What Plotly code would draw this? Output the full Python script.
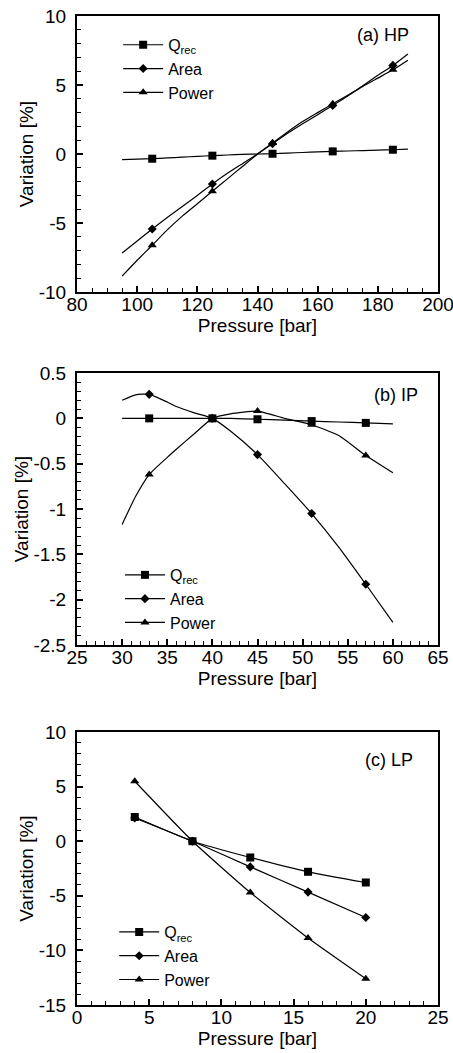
import plotly.graph_objects as go

# ---------------- data ----------------
# (a) HP
a_curve_x = [95, 100, 105, 110, 115, 120, 125, 130, 135, 140, 145, 150, 155, 160, 165, 170, 175, 180, 185, 190]
a_q_curve = [-0.41, -0.37, -0.34, -0.28, -0.23, -0.17, -0.12, -0.07, -0.03, 0.0, 0.02, 0.07, 0.11, 0.15, 0.19, 0.22, 0.25, 0.28, 0.31, 0.36]
a_area_curve = [-7.17, -6.3, -5.43, -4.6, -3.8, -3.0, -2.17, -1.4, -0.7, 0.0, 0.75, 1.5, 2.2, 2.85, 3.52, 4.2, 4.95, 5.7, 6.42, 7.25]
a_power_curve = [-8.85, -7.7, -6.61, -5.5, -4.5, -3.6, -2.7, -1.8, -0.9, 0.0, 0.8, 1.6, 2.35, 3.0, 3.64, 4.25, 4.9, 5.5, 6.1, 6.8]
a_mark_x = [105, 125, 145, 165, 185]
a_q_mark = [-0.34, -0.12, 0.02, 0.19, 0.31]
a_area_mark = [-5.43, -2.17, 0.75, 3.52, 6.42]
a_power_mark = [-6.61, -2.7, 0.8, 3.64, 6.1]

# (b) IP
b_curve_x = [30, 31.5, 33, 35, 36, 38, 40, 42, 45, 48, 51, 54, 57, 60]
b_q_curve = [0.0, 0.0, 0.0, 0.0, 0.0, 0.0, 0.0, 0.0, -0.01, -0.02, -0.03, -0.04, -0.05, -0.06]
b_area_curve = [0.2, 0.26, 0.265, 0.18, 0.13, 0.06, 0.0, -0.14, -0.40, -0.72, -1.05, -1.42, -1.83, -2.25]
b_power_curve = [-1.17, -0.86, -0.62, -0.43, -0.34, -0.17, 0.0, 0.05, 0.08, 0.0, -0.07, -0.19, -0.41, -0.60]
b_mark_x = [33, 40, 45, 51, 57]
b_q_mark = [0.0, 0.0, -0.01, -0.03, -0.05]
b_area_mark = [0.265, 0.0, -0.40, -1.05, -1.83]
b_power_mark = [-0.62, 0.0, 0.08, -0.07, -0.41]

# (c) LP
c_mark_x = [4, 8, 12, 16, 20]
c_q_mark = [2.22, 0.0, -1.49, -2.8, -3.78]
c_area_mark = [2.13, 0.0, -2.35, -4.66, -6.98]
c_power_mark = [5.49, 0.0, -4.7, -8.87, -12.6]

series_names = ["Q<sub>rec</sub>", "Area", "Power"]
symbols = ["square", "diamond", "triangle-up"]
marker_sizes = [8, 7, 8]
panel_labels = ["(a) HP", "(b) IP", "(c) LP"]

a_xticks = [80, 100, 120, 140, 160, 180, 200]
a_yticks = [-10, -5, 0, 5, 10]
a_yticktext = ["-10", "-5", "0", "5", "10"]
b_xticks = [25, 30, 35, 40, 45, 50, 55, 60, 65]
b_yticks = [-2.5, -2, -1.5, -1, -0.5, 0, 0.5]
b_yticktext = ["-2.5", "-2", "-1.5", "-1", "-0.5", "0", "0.5"]
c_xticks = [0, 5, 10, 15, 20, 25]
c_yticks = [-15, -10, -5, 0, 5, 10]
c_yticktext = ["-15", "-10", "-5", "0", "5", "10"]

# ---------------- figure ----------------
FONT = "Liberation Sans, Arial, sans-serif"
fig = go.Figure()

panels = [
    dict(curve_x=a_curve_x, curves=[a_q_curve, a_area_curve, a_power_curve],
         mark_x=a_mark_x, marks=[a_q_mark, a_area_mark, a_power_mark], xa="x", ya="y", lg="legend"),
    dict(curve_x=b_curve_x, curves=[b_q_curve, b_area_curve, b_power_curve],
         mark_x=b_mark_x, marks=[b_q_mark, b_area_mark, b_power_mark], xa="x2", ya="y2", lg="legend2"),
    dict(curve_x=c_mark_x, curves=[c_q_mark, c_area_mark, c_power_mark],
         mark_x=c_mark_x, marks=[c_q_mark, c_area_mark, c_power_mark], xa="x3", ya="y3", lg="legend3"),
]

for p in panels:
    for i in range(3):
        fig.add_trace(go.Scatter(x=p["curve_x"], y=p["curves"][i], mode="lines",
                                 line=dict(color="black", width=1.2, shape="spline", smoothing=0.5),
                                 xaxis=p["xa"], yaxis=p["ya"], showlegend=False, hoverinfo="skip"))
        fig.add_trace(go.Scatter(x=p["mark_x"], y=p["marks"][i], mode="markers",
                                 marker=dict(symbol=symbols[i], size=marker_sizes[i], color="black"),
                                 xaxis=p["xa"], yaxis=p["ya"], showlegend=False))
    for i in range(3):
        fig.add_trace(go.Scatter(x=[None], y=[None], mode="lines+markers", name=series_names[i],
                                 line=dict(color="black", width=1.2),
                                 marker=dict(symbol=symbols[i], size=marker_sizes[i], color="black"),
                                 xaxis=p["xa"], yaxis=p["ya"], legend=p["lg"]))

axis_common = dict(showline=True, linecolor="black", linewidth=2, mirror=True,
                   ticks="inside", ticklen=6, tickwidth=1.5, tickcolor="black",
                   showgrid=False, zeroline=False, automargin=False,
                   ticklabeloverflow="allow",
                   tickfont=dict(family=FONT, size=19, color="black"),
                   title_font=dict(family=FONT, size=19, color="black"))

doms = [[0.7209, 1.0], [0.3640, 0.6390], [0.0, 0.2760]]
xr = [[80, 200], [25, 65], [0, 25]]
yr = [[-10, 10], [-2.5, 0.5], [-15, 10]]
xt = [a_xticks, b_xticks, c_xticks]
yt = [a_yticks, b_yticks, c_yticks]
ytt = [a_yticktext, b_yticktext, c_yticktext]
xminor = [5, 1, 1]
yminor = [1, 0.1, 1]

layout = dict(width=453, height=1053, plot_bgcolor="white", paper_bgcolor="white",
              template="none",
              margin=dict(l=77, r=15, t=16, b=48), font=dict(family=FONT, color="black"))
for k in range(3):
    sx = "" if k == 0 else str(k + 1)
    layout["xaxis" + sx] = dict(axis_common, domain=[0, 1], range=xr[k], anchor="y" + sx,
                                tickvals=xt[k], ticktext=[str(v) for v in xt[k]],
                                ticklabelstandoff=-6,
                                minor=dict(dtick=xminor[k], tick0=xr[k][0], ticks="inside", ticklen=4,
                                           tickwidth=1.2, tickcolor="black"),
                                title=dict(text="Pressure [bar]", standoff=2))
    layout["yaxis" + sx] = dict(axis_common, domain=doms[k], range=yr[k], anchor="x" + sx,
                                tickvals=yt[k], ticktext=ytt[k],
                                ticklabelstandoff=5,
                                minor=dict(dtick=yminor[k], tick0=yr[k][0], ticks="inside", ticklen=4,
                                           tickwidth=1.2, tickcolor="black"),
                                title=dict(text="Variation [%]", standoff=0))

leg_common = dict(bgcolor="rgba(0,0,0,0)", font=dict(family=FONT, size=16, color="black"),
                  xanchor="left", yanchor="top", tracegroupgap=0, itemwidth=40)
layout["legend"] = dict(leg_common, x=0.114, y=0.988)
layout["legend2"] = dict(leg_common, x=0.119, y=0.452)
layout["legend3"] = dict(leg_common, x=0.103, y=0.091)

annos = []
label_pos = [(0.925, 0.931), (0.95, 0.919), (0.936, 0.897)]
for k in range(3):
    sx = "" if k == 0 else str(k + 1)
    annos.append(dict(text=panel_labels[k], xref="x" + sx + " domain", yref="y" + sx + " domain",
                      x=label_pos[k][0], y=label_pos[k][1], xanchor="right", yanchor="middle",
                      showarrow=False, font=dict(family=FONT, size=18, color="black")))
layout["annotations"] = annos

fig.update_layout(**layout)
fig.write_html("out.html", config={"displayModeBar": False},
               post_script="document.body.style.margin='0';document.body.style.padding='0';")
